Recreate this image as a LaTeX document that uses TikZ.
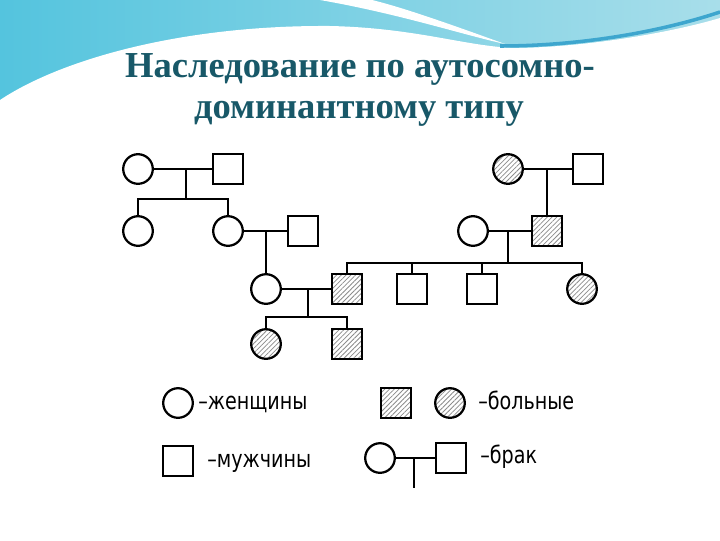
\documentclass[tikz,border=0pt]{standalone}
\usepackage{fontspec}
\newfontfamily\titlefont{Liberation Serif}
\newfontfamily\legendfont[FakeStretch=0.8]{DejaVu Sans}
\usetikzlibrary{patterns.meta}
\definecolor{titleteal}{RGB}{24,88,104}
\definecolor{waveleft}{RGB}{84,196,222}
\definecolor{wavemid}{RGB}{128,182,210}
\definecolor{waveright}{RGB}{168,222,234}
\definecolor{waveline}{RGB}{62,166,206}

\begin{document}
\begin{tikzpicture}[
    x=0.025cm, y=-0.025cm,
    fem/.style={circle, draw, line width=1.6pt, minimum size=0.74cm, inner sep=0pt},
    male/.style={rectangle, draw, line width=1.6pt, minimum size=0.76cm, inner sep=0pt},
    ill/.style={pattern={Lines[angle=45,distance=2.4pt,line width=0.55pt]}, pattern color=black!45},
    link/.style={line width=1.2pt},
    title/.style={font=\titlefont\bfseries\fontsize{26}{30}\selectfont, text=titleteal, anchor=base},
    legend/.style={font=\legendfont\fontsize{17}{20}\selectfont, anchor=base west, inner sep=0pt}
]
\useasboundingbox (0,0) rectangle (720,540);
% background
\fill[white] (0,0) rectangle (720,540);
\shade[left color=waveleft, middle color=wavemid, right color=waveright] (0,0) rectangle (720,110);
\fill[white] (0,100) .. controls (60,60) and (180,25) .. (330,26)
    .. controls (420,28) and (470,48) .. (520,48)
    .. controls (600,46) and (680,30) .. (720,18) -- (720,540) -- (0,540) -- cycle;
\fill[white] (320,0) .. controls (400,14) and (460,34) .. (505,44)
    .. controls (455,26) and (405,8) .. (372,0) -- cycle;
\draw[waveline, line width=2.5pt] (500,46) .. controls (580,46) and (660,32) .. (720,12);

% title
\node[title] (t1) at (360,77) {Наследование по аутосомно-};
\node[title] (t2) at (359,118) {доминантному типу};

% generation I
\node[fem] (f1) at (138,169) {};
\node[male] (m1) at (228,169) {};
\node[fem, ill] (f6) at (508,169) {};
\node[male] (m5) at (588,169) {};
% generation II
\node[fem] (f2) at (138,231) {};
\node[fem] (f3) at (228,231) {};
\node[male] (m2) at (303,231) {};
\node[fem] (f7) at (473,231) {};
\node[male, ill] (m6) at (547,231) {};
% generation III
\node[fem] (f4) at (266,289) {};
\node[male, ill] (m3) at (347,289) {};
\node[male] (m7) at (412,289) {};
\node[male] (m8) at (482,289) {};
\node[fem, ill] (f8) at (582,289) {};
% generation IV
\node[fem, ill] (f5) at (266,344) {};
\node[male, ill] (m4) at (347,344) {};

\coordinate (u1) at (186,169);
\coordinate (s1) at (186,199);
\coordinate (u2) at (266,231);
\coordinate (u3) at (308,289);
\coordinate (s3) at (308,317);
\coordinate (u4) at (547,169);
\coordinate (u5) at (508,231);
\coordinate (s5) at (508,263);

\draw[link] (f1) -- (m1);
\draw[link] (u1) -- (s1);
\draw[link] (f2) |- (s1) -| (f3);
\draw[link] (f3) -- (m2);
\draw[link] (u2) -- (f4);
\draw[link] (f4) -- (m3);
\draw[link] (u3) -- (s3);
\draw[link] (f5) |- (s3) -| (m4);
\draw[link] (f6) -- (m5);
\draw[link] (u4) -- (m6);
\draw[link] (f7) -- (m6);
\draw[link] (u5) -- (s5);
\draw[link] (m3) |- (s5) -| (f8);
\draw[link] (m7) |- (s5);
\draw[link] (m8) |- (s5);

% legend
\node[fem] (lf) at (178,403) {};
\node[legend] (lft) at (198,409) {–женщины};
\node[male, ill] (lim) at (396,403) {};
\node[fem, ill] (lif) at (450,403) {};
\node[legend] (lit) at (478,409) {–больные};
\node[male] (lm) at (178,461) {};
\node[legend] (lmt) at (207,467) {–мужчины};
\node[fem] (lmf) at (380,458) {};
\node[male] (lmm) at (451,458) {};
\node[legend] (lbt) at (480,463) {–брак};
\coordinate (lu) at (414,458);
\coordinate (ld) at (414,488);
\draw[link] (lmf) -- (lmm);
\draw[link] (lu) -- (ld);
\end{tikzpicture}
\end{document}
